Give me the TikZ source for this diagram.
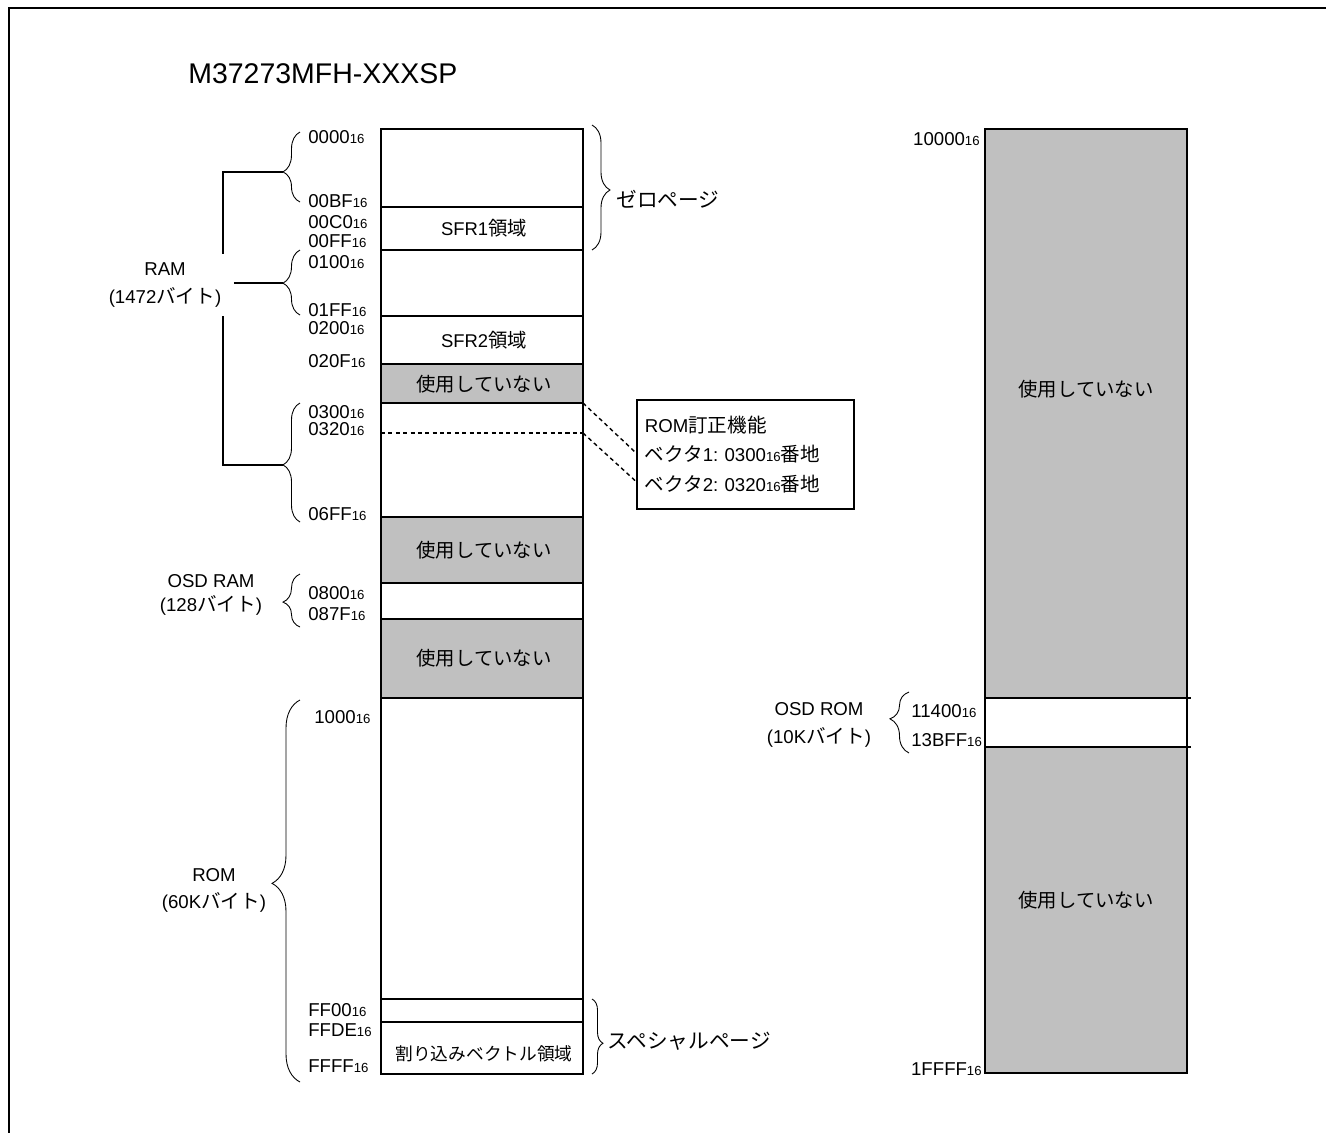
\documentclass[tikz,border=0pt]{standalone}
\usepackage{fontspec}
\setmainfont{Liberation Sans}
\newfontfamily\jp{Noto Sans CJK JP}[Scale=1.05]
\usetikzlibrary{decorations.pathreplacing,positioning,calc}
\definecolor{unusedgray}{HTML}{C0C0C0}
\frenchspacing

\newcommand\hx[1]{#1{\fontsize{7.5}{8}\selectfont 16}}
\newcommand\jt[1]{{\jp #1}}

\begin{document}
\begin{tikzpicture}[
  x=0.02cm, y=-0.02cm,
  frame/.style={line width=1.3pt},
  mapline/.style={line width=1.3pt},
  sepline/.style={line width=1.1pt},
  unused/.style={fill=unusedgray},
  addr/.style={anchor=west, inner sep=0pt, font=\fontsize{10.6}{12}\selectfont},
  addrr/.style={addr, anchor=east},
  area/.style={inner sep=0pt, font=\fontsize{10.5}{12}\selectfont},
  side/.style={align=center, inner sep=0pt, font=\fontsize{10.6}{15.4}\selectfont},
  page/.style={anchor=west, inner sep=0pt, font=\fontsize{11.2}{13}\selectfont},
  curl/.style args={#1/#2}{decorate, line width=0.5pt, decoration={brace, amplitude=#1, aspect=#2}},
  rail/.style={line width=0.6pt},
  vecline/.style={line width=0.8pt, dash pattern=on 2.3pt off 1.9pt}
]
\useasboundingbox (0,0) rectangle (1326,1133);
\clip (0,0) rectangle (1326,1133);
\draw[frame] (9,8) rectangle (1400,1200);

\node[anchor=west, inner sep=0pt, font=\fontsize{16.2}{18}\selectfont] (title) at (188,74) {M37273MFH-XXXSP};

% left map
\fill[unused] (381,364) rectangle (583,403);
\fill[unused] (381,517) rectangle (583,583);
\fill[unused] (381,619) rectangle (583,698);
\draw[mapline] (381,129) rectangle (583,1074);
\draw[sepline] (381,207) -- (583,207);
\draw[sepline] (381,250) -- (583,250);
\draw[sepline] (381,316) -- (583,316);
\draw[sepline] (381,364) -- (583,364);
\draw[sepline] (381,403) -- (583,403);
\draw[sepline] (381,517) -- (583,517);
\draw[sepline] (381,583) -- (583,583);
\draw[sepline] (381,619) -- (583,619);
\draw[sepline] (381,698) -- (583,698);
\draw[sepline] (381,999) -- (583,999);
\draw[sepline] (381,1022) -- (583,1022);
\draw[vecline] (381,433) -- (583,433);

\node[area] (sfr1) at (484,228) {SFR1\jt{領域}};
\node[area] (sfr2) at (484,340) {SFR2\jt{領域}};
\node[area] (gap1) at (484,384) {\jt{使用していない}};
\node[area] (gap2) at (484,550) {\jt{使用していない}};
\node[area] (gap3) at (484,658) {\jt{使用していない}};
\node[area, font=\fontsize{9.6}{11}\selectfont] (ivec) at (484,1054) {\jt{割り込みベクトル領域}};

% left addresses
\node[addr] (a0000) at (308,137) {\hx{0000}};
\node[addr] (a00BF) at (308,201) {\hx{00BF}};
\node[addr] (a00C0) at (308,222) {\hx{00C0}};
\node[addr] (a00FF) at (308,241) {\hx{00FF}};
\node[addr] (a0100) at (308,262) {\hx{0100}};
\node[addr] (a01FF) at (308,310) {\hx{01FF}};
\node[addr] (a0200) at (308,328) {\hx{0200}};
\node[addr] (a020F) at (308,361) {\hx{020F}};
\node[addr] (a0300) at (308,412) {\hx{0300}};
\node[addr] (a0320) at (308,429) {\hx{0320}};
\node[addr] (a06FF) at (308,514) {\hx{06FF}};
\node[addr] (a0800) at (308,593) {\hx{0800}};
\node[addr] (a087F) at (308,614) {\hx{087F}};
\node[addr] (a1000) at (314,717) {\hx{1000}};
\node[addr] (aFF00) at (308,1010) {\hx{FF00}};
\node[addr] (aFFDE) at (308,1030) {\hx{FFDE}};
\node[addr] (aFFFF) at (308,1066) {\hx{FFFF}};

% braces
\draw[curl=0.34cm/0.43] (300,202) -- (300,132);
\draw[curl=0.34cm/0.49] (300,315) -- (300,250);
\draw[curl=0.34cm/0.48] (300,522) -- (300,403);
\draw[curl=0.34cm/0.47] (300,627) -- (300,574);
\draw[curl=0.56cm/0.52] (300,1082) -- (300,700);
\draw[curl=0.36cm/0.52] (592,125) -- (592,250);
\draw[curl=0.22cm/0.59] (592,999) -- (592,1074);
\draw[curl=0.38cm/0.56] (909,753) -- (909,692);
\coordinate (tipA) at (283,172);
\coordinate (tipB) at (283,283);
\coordinate (tipC) at (283,465);

% RAM bracket
\draw[rail] (tipA) -- (223,172) -- (223,465) -- (tipC);
\node[side, fill=white, inner xsep=7pt, inner ysep=5pt] (ram) at (165,285) {RAM\\(1472\jt{バイト})};
\draw[rail] (ram.east |- tipB) -- (tipB);

\node[side, font=\fontsize{10.6}{13.7}\selectfont] (osdram) at (211,595) {OSD RAM\\(128\jt{バイト})};
\node[side] (rom) at (214,890) {ROM\\(60K\jt{バイト})};
\node[page] (zero) at (616,199) {\jt{ゼロページ}};
\node[page] (special) at (607,1041) {\jt{スペシャルページ}};

% ROM correction vectors
\node[draw, line width=1.1pt, anchor=north west, text width=4.02cm, minimum height=2.18cm,
      inner xsep=0.16cm, align=left, font=\fontsize{10.6}{17}\selectfont] (romfix) at (636,399)
  {ROM\jt{訂正機能}\\\jt{ベクタ}1: \hx{0300}\jt{番地}\\\jt{ベクタ}2: \hx{0320}\jt{番地}};
\coordinate (vec1) at (583,403);
\coordinate (vec2) at (583,433);
\draw[vecline] (vec1) -- ($(romfix.north west)!0.486!(romfix.south west)$);
\draw[vecline] (vec2) -- ($(romfix.north west)!0.743!(romfix.south west)$);

% right map
\fill[unused] (985,129) rectangle (1187,698);
\fill[unused] (985,747) rectangle (1187,1073);
\draw[mapline] (985,129) rectangle (1187,1073);
\draw[sepline] (985,698) -- (1191,698);
\draw[sepline] (985,747) -- (1191,747);
\node[area] (gap4) at (1086,389) {\jt{使用していない}};
\node[area] (gap5) at (1086,900) {\jt{使用していない}};

\node[addrr] (a10000) at (980,139) {\hx{10000}};
\node[addrr] (a1FFFF) at (982,1069) {\hx{1FFFF}};
\node[addr] (a11400) at (911,711) {\hx{11400}};
\node[addr] (a13BFF) at (911,740) {\hx{13BFF}};
\node[side, font=\fontsize{10.6}{16}\selectfont] (osdrom) at (819,725) {OSD ROM\\(10K\jt{バイト})};

\end{tikzpicture}
\end{document}
